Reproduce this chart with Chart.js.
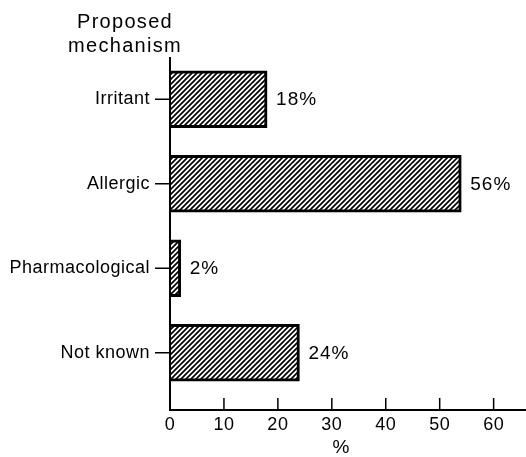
<!DOCTYPE html>
<html>
<head>
<meta charset="utf-8">
<script src="https://cdn.jsdelivr.net/npm/chart.js@4"></script>
<style>
  html, body { margin: 0; padding: 0; background: #fff; }
  #wrap { width: 526px; height: 457px; }
</style>
</head>
<body>
<div id="wrap"><canvas id="mechChart"></canvas></div>
<script>
// 数据
const mechanisms = ['Irritant', 'Allergic', 'Pharmacological', 'Not known'];
const barValues = [18, 54, 2, 24];
const valueLabels = ['18%', '56%', '2%', '24%'];
const xTicks = [0, 10, 20, 30, 40, 50, 60];
const titleLines = ['Proposed', 'mechanism'];
const xTitle = '%';

const FONT = "'Liberation Sans', Arial, sans-serif";

// 斜线填充
function makeHatch() {
  const size = 5;
  const c = document.createElement('canvas');
  c.width = size;
  c.height = size;
  const g = c.getContext('2d');
  g.fillStyle = '#fff';
  g.fillRect(0, 0, size, size);
  g.strokeStyle = '#000';
  g.lineWidth = 1.7;
  g.beginPath();
  g.moveTo(-1, size + 1); g.lineTo(size + 1, -1);
  g.moveTo(-1, 1); g.lineTo(1, -1);
  g.moveTo(size - 1, size + 1); g.lineTo(size + 1, size - 1);
  g.stroke();
  return g.createPattern(c, 'repeat');
}

// 坐标轴、刻度、标题和数值标签
const decorPlugin = {
  id: 'decor',
  beforeDraw(chart) {
    chart.ctx.letterSpacing = '0.5px';
  },
  afterDraw(chart) {
    const { ctx, chartArea, scales: { x, y } } = chart;
    const axisY = chartArea.bottom + 15;
    ctx.save();
    ctx.strokeStyle = '#000';
    ctx.lineWidth = 2;

    // 轴线
    ctx.beginPath();
    ctx.moveTo(chartArea.left, chartArea.top);
    ctx.lineTo(chartArea.left, axisY);
    ctx.lineTo(chartArea.right, axisY);
    ctx.stroke();

    // x 刻度（向内）
    ctx.lineWidth = 1.5;
    ctx.beginPath();
    xTicks.forEach(v => {
      const px = x.getPixelForValue(v);
      ctx.moveTo(px, axisY - 12);
      ctx.lineTo(px, axisY);
    });
    // y 刻度（向外）
    mechanisms.forEach((m, i) => {
      const py = y.getPixelForValue(i);
      ctx.moveTo(chartArea.left - 15, py);
      ctx.lineTo(chartArea.left, py);
    });
    ctx.stroke();

    ctx.fillStyle = '#000';

    // 数值标签
    ctx.letterSpacing = '1px';
    ctx.font = `19px ${FONT}`;
    ctx.textAlign = 'left';
    ctx.textBaseline = 'middle';
    chart.getDatasetMeta(0).data.forEach((bar, i) => {
      ctx.fillText(valueLabels[i], bar.x + 9, bar.y + 1);
    });

    // 纵轴标题
    ctx.letterSpacing = '1.3px';
    ctx.font = `20px ${FONT}`;
    ctx.textAlign = 'center';
    ctx.textBaseline = 'alphabetic';
    ctx.fillText(titleLines[0], 125, 28);
    ctx.fillText(titleLines[1], 125, 52);

    // 横轴标题
    ctx.letterSpacing = '0px';
    ctx.font = `19px ${FONT}`;
    ctx.textBaseline = 'middle';
    ctx.fillText(xTitle, 341, 448);

    ctx.restore();
  }
};

const ctx = document.getElementById('mechChart').getContext('2d');

window.mechChart = new Chart(ctx, {
  type: 'bar',
  data: {
    labels: mechanisms,
    datasets: [{
      data: barValues,
      backgroundColor: makeHatch(),
      borderColor: '#000',
      borderWidth: 3,
      borderSkipped: 'start',
      barThickness: 57
    }]
  },
  options: {
    indexAxis: 'y',
    responsive: true,
    maintainAspectRatio: false,
    animation: false,
    layout: {
      padding: { top: 57, right: 0, bottom: 0, left: 0 }
    },
    plugins: {
      legend: { display: false },
      tooltip: { enabled: false }
    },
    scales: {
      x: {
        type: 'linear',
        min: 0,
        max: 66,
        afterBuildTicks: scale => {
          scale.ticks = xTicks.map(v => ({ value: v }));
        },
        afterFit: scale => { scale.height = 62; },
        grid: { display: false, drawTicks: false },
        border: { display: false },
        ticks: {
          color: '#000',
          font: { family: FONT, size: 18 },
          padding: 19,
          maxRotation: 0,
          autoSkip: false
        }
      },
      y: {
        type: 'category',
        offset: true,
        afterFit: scale => { scale.width = 170; },
        grid: { display: false, drawTicks: false },
        border: { display: false },
        ticks: {
          color: '#000',
          font: { family: FONT, size: 18 },
          padding: 20
        }
      }
    }
  },
  plugins: [decorPlugin]
});
</script>
</body>
</html>
